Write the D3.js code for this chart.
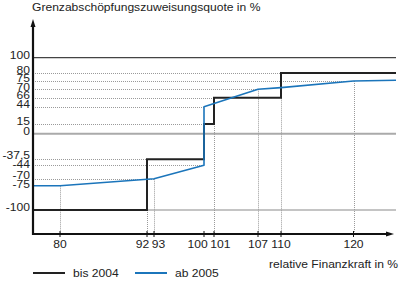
<!DOCTYPE html>
<html><head><meta charset="utf-8">
<script src="https://cdn.jsdelivr.net/npm/d3@7"></script>
<style>
body{margin:0;background:#fff;}
svg text{font-family:"Liberation Sans",Arial,Helvetica,sans-serif;fill:#222;}
</style></head>
<body><svg id="c" width="400" height="294"></svg>
<script>
// ---- data ----
const yTickValues = [100, 80, 75, 70, 66, 44, 15, 0, -37.5, -44, -70, -75, -100];
const yTickLabels = ["100","80","75","70","66","44","15","0","-37,5","-44","-70","-75","-100"];
const xTickValues = [80, 92, 93, 100, 101, 107, 110, 120];
const xTickLabels = ["80","92","93","100","101","107","110","120"];
const seriesNames = ["bis 2004", "ab 2005"];
// bis 2004 (step function)
const bisX = [76, 92, 100, 101, 110, 126];
const bisY = [-100, -37.5, 15, 66, 80, 80];
// ab 2005
const abX = [76, 80, 93, 100, 100, 107, 110, 120, 126];
const abY = [-75, -75, -70, -44, 44, 70, 71, 75, 75.5];
// reference guides
const hGuideY = [80, 75, 70, 66, 44, 15, -37.5, -44, -70];
const hGuideToX = [110, 120, 107, 101, 100, 100, 92, 100, 93];
const vGuideX = [80, 92, 93, 101, 107, 110, 120];
const vGuideFromY = [-75, -100, -70, 15, 70, 66, 75];
const solidLines = [100, 0, -100];

// ---- layout ----
const svg = d3.select("#c");
const left = 33, right = 396, axisY = 234, topY = 19;
const FS = 11, SX = 1.1; // font size, horizontal stretch of the original lettering
// schematic (non-linear) axes of the original: piecewise scales
const x = d3.scaleLinear()
  .domain([76, 80, 92, 93, 100, 101, 107, 110, 120, 126])
  .range([left, 60, 147, 154, 204, 214, 258, 281, 353.5, right]);
const y = d3.scaleLinear()
  .domain([-100, -75, -70, -44, -37.5, 0, 15, 44, 66, 70, 75, 80, 100])
  .range([210, 185.7, 178.7, 165.3, 159.3, 133.7, 124, 106.7, 97.7, 89.3, 81, 73, 57.7]);

function txt(sel, tx, ty) {
  return sel.attr("transform", (d, i) => `translate(${tx(d, i)},${ty(d, i)}) scale(${SX},1)`)
    .attr("font-size", FS);
}

// solid horizontal lines
const solidStyle = {"100": ["#444", 1.2], "0": ["#aaa", 2], "-100": ["#8a8a8a", 1.2]};
svg.append("g").selectAll("line").data(solidLines).join("line")
  .attr("x1", left).attr("x2", right)
  .attr("y1", d => y(d)).attr("y2", d => y(d))
  .attr("stroke", d => solidStyle[d][0]).attr("stroke-width", d => solidStyle[d][1]);

// dotted guides
const guides = svg.append("g").attr("stroke", "#9a9a9a").attr("stroke-width", 1).attr("stroke-dasharray", "1,1");
guides.selectAll("line.h").data(hGuideY).join("line").attr("class", "h")
  .attr("x1", left).attr("x2", (d, i) => x(hGuideToX[i]))
  .attr("y1", d => Math.round(y(d)) + 0.5).attr("y2", d => Math.round(y(d)) + 0.5);
guides.selectAll("line.v").data(vGuideX).join("line").attr("class", "v")
  .attr("x1", d => Math.round(x(d)) + 0.5).attr("x2", d => Math.round(x(d)) + 0.5)
  .attr("y1", (d, i) => y(vGuideFromY[i])).attr("y2", axisY);

// series
const bisLine = d3.line().x(d => x(d[0])).y(d => y(d[1])).curve(d3.curveStepAfter);
svg.append("path").datum(bisX.map((v, i) => [v, bisY[i]]))
  .attr("d", bisLine).attr("fill", "none").attr("stroke", "#222").attr("stroke-width", 2);
const abLine = d3.line().x(d => x(d[0])).y(d => y(d[1]));
svg.append("path").datum(abX.map((v, i) => [v, abY[i]]))
  .attr("d", abLine).attr("fill", "none").attr("stroke", "#1b75bb").attr("stroke-width", 1.6)
  .attr("stroke-linejoin", "round");

// axes
svg.append("line").attr("x1", left).attr("x2", left).attr("y1", axisY + 1).attr("y2", topY + 6)
  .attr("stroke", "#111").attr("stroke-width", 2.2);
svg.append("path").attr("d", `M${left - 2.5},${topY + 8}L${left},${topY}L${left + 2.5},${topY + 8}Z`).attr("fill", "#111");
svg.append("line").attr("x1", left - 1).attr("x2", 388).attr("y1", axisY).attr("y2", axisY)
  .attr("stroke", "#111").attr("stroke-width", 2.2);
svg.append("path").attr("d", `M386,${axisY - 2.5}L394,${axisY}L386,${axisY + 2.5}Z`).attr("fill", "#111");

// x ticks
svg.append("g").selectAll("line").data(xTickValues).join("line")
  .attr("x1", d => x(d)).attr("x2", d => x(d)).attr("y1", axisY - 3).attr("y2", axisY + 3)
  .attr("stroke", "#111").attr("stroke-width", 1);
const xl = svg.append("g").selectAll("text").data(xTickValues).join("text")
  .attr("text-anchor", "middle").text((d, i) => xTickLabels[i]);
txt(xl, d => x(d), () => axisY + 14);
// spread labels that collide
const xw = xl.nodes().map(n => n.getComputedTextLength() * SX);
const xc = xTickValues.map(d => x(d));
for (let k = 0; k < 3; k++) {
  for (let i = 1; i < xc.length; i++) {
    const need = (xw[i - 1] + xw[i]) / 2 + 2.5;
    const gap = xc[i] - xc[i - 1];
    if (gap < need) { const s = (need - gap) / 2; xc[i - 1] -= s; xc[i] += s; }
  }
}
txt(xl, (d, i) => xc[i], () => axisY + 14);

// y tick labels (spread apart where crowded)
const yc = yTickValues.map(d => y(d) - 2.5);
for (let k = 0; k < 4; k++) {
  for (let i = 1; i < yc.length; i++) {
    const need = 8.6, gap = yc[i] - yc[i - 1];
    if (gap < need) { const s = (need - gap) / 2; yc[i - 1] -= s; yc[i] += s; }
  }
}
const yl = svg.append("g").selectAll("text").data(yTickValues).join("text")
  .attr("dy", "0.35em").attr("text-anchor", "end").text((d, i) => yTickLabels[i]);
txt(yl, () => 30, (d, i) => yc[i]);

// titles
txt(svg.append("text").datum(0), () => 32, () => 11).text("Grenzabschöpfungszuweisungsquote in %");
txt(svg.append("text").datum(0), () => 398, () => 268).attr("text-anchor", "end").text("relative Finanzkraft in %");

// legend
const legColors = ["#222", "#1b75bb"];
const legX = [33, 135];
const leg = svg.append("g").selectAll("g").data(seriesNames).join("g")
  .attr("transform", (d, i) => `translate(${legX[i]},273)`);
leg.append("line").attr("x1", 0).attr("x2", 32).attr("stroke", (d, i) => legColors[i]).attr("stroke-width", 2);
txt(leg.append("text").attr("dy", "0.35em").text(d => d), () => 40, () => 0);
</script></body></html>
